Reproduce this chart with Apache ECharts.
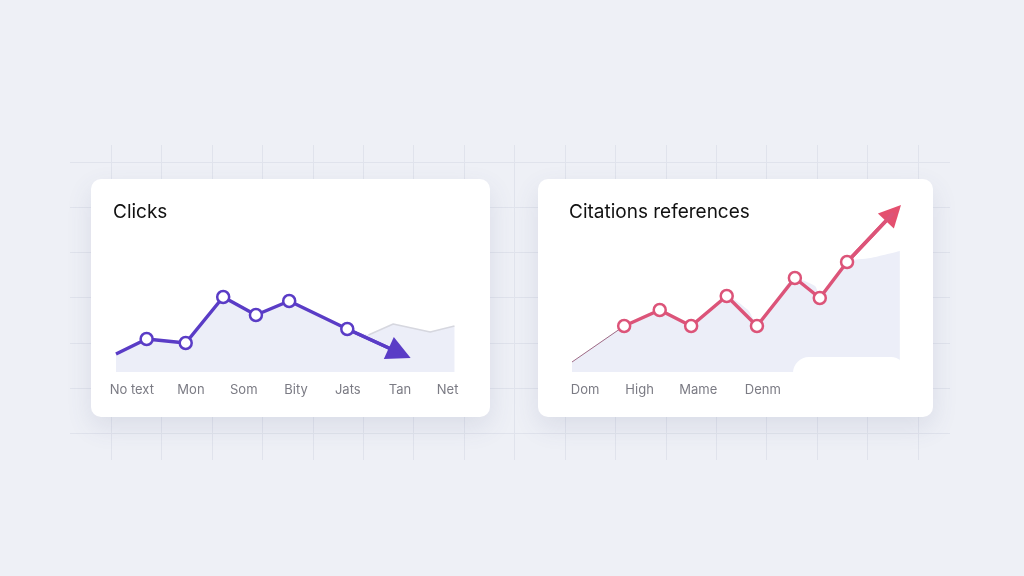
<!DOCTYPE html>
<html>
<head>
<meta charset="utf-8">
<title>Clicks / Citations</title>
<script src="https://cdn.jsdelivr.net/npm/echarts@6/dist/echarts.min.js"></script>
<style>
  html, body { margin: 0; padding: 0; background: #eef0f6; }
  #main { width: 1024px; height: 576px; }
</style>
</head>
<body>
<div id="main"></div>
<script>
// left card: Clicks
var clickLabels = ['No text', 'Mon', 'Som', 'Bity', 'Jats', 'Tan', 'Net'];
var clickLabelAt = [0, 1.12, 2.12, 3.11, 4.09, 5.08, 5.98];
var clickX = [-0.3, 0.28, 1.02, 1.73, 2.35, 2.98, 4.08, 5.28];
var clickY = [18, 33, 29, 75, 57, 71, 43, 14];
// faint grey trace behind the arrow
var clickGhostX = [4.48, 4.95, 5.65, 6.11];
var clickGhostY = [37, 48, 40, 46];

// right card: Citations references
var citeLabels = ['Dom', 'High', 'Mame', 'Denm'];
var citeLabelAt = [0, 0.92, 1.91, 3.0];
var citeX = [-0.22, 0.66, 1.26, 1.79, 2.39, 2.90, 3.54, 3.96, 4.42, 5.33];
var citeY = [10, 46, 62, 46, 76, 46, 94, 74, 110, 167];
// shaded band under the pink line
var citeAreaX = [-0.22, 0.66, 1.26, 1.79, 2.39, 2.75, 2.90, 3.54, 3.88, 3.96, 4.42, 4.82, 5.31];
var citeAreaY = [10, 46, 62, 46, 76, 62, 48, 94, 86, 76, 110, 114, 121];

function pairs(xs, ys) {
  var out = [];
  for (var i = 0; i < xs.length; i++) out.push([xs[i], ys[i]]);
  return out;
}
function labelFor(names, at) {
  return function (v) {
    var best = 0;
    for (var i = 1; i < at.length; i++) {
      if (Math.abs(at[i] - v) < Math.abs(at[best] - v)) best = i;
    }
    return names[best];
  };
}

var PURPLE = '#5a3cc6';
var PINK = '#dc5479';
var AREA = '#eceef8';
var FONT = 'Inter, "Noto Sans", sans-serif';
var labelFont = { color: '#7b7b84', fontSize: 13, fontFamily: FONT };
var HEAD_L = 24, HEAD_R = 22;

var chart = echarts.init(document.getElementById('main'));

// line + arrow pieces
var clickPts = pairs(clickX, clickY);
var clickLine = clickPts.map(function (p, i) {
  if (i == 0 || i == clickPts.length - 1) return { value: p, symbol: 'none' };
  return p;
});
var clickArea = clickPts.slice(0, 7).concat(pairs(clickGhostX, clickGhostY));

var citePts = pairs(citeX, citeY);
var citeLine = citePts.slice(1).map(function (p, i, arr) {
  if (i == arr.length - 1) return { value: p, symbol: 'none' };
  return p;
});

var bgLineColor = '#e0e3ec';
var vColors = [], hColors = [];
for (var i = 0; i <= 18; i++) vColors.push(i == 0 || i == 18 ? 'rgba(0,0,0,0)' : bgLineColor);
for (var j = 0; j <= 8; j++) hColors.push(j == 0 || j == 8 ? 'rgba(0,0,0,0)' : bgLineColor);

option = {
  backgroundColor: '#eef0f6',
  animation: false,
  title: [
    { text: 'Clicks', left: 113, top: 203, padding: 0,
      textStyle: { fontSize: 19, fontWeight: 'normal', color: '#111', fontFamily: FONT } },
    { text: 'Citations references', left: 569, top: 203, padding: 0,
      textStyle: { fontSize: 19, fontWeight: 'normal', color: '#111', fontFamily: FONT } }
  ],
  graphic: [
    { type: 'rect', z: 1, shape: { x: 91, y: 179, width: 399, height: 238, r: 10 },
      style: { fill: '#fff', shadowBlur: 26, shadowOffsetY: 10, shadowColor: 'rgba(70,80,130,0.12)' } },
    { type: 'rect', z: 1, shape: { x: 538, y: 179, width: 395, height: 238, r: 10 },
      style: { fill: '#fff', shadowBlur: 26, shadowOffsetY: 10, shadowColor: 'rgba(70,80,130,0.12)' } },
    // white patch over the lower right of the citations plot
    { type: 'rect', z: 3, shape: { x: 793, y: 357, width: 112, height: 56, r: [16, 14, 0, 0] },
      style: { fill: '#fff' } }
  ],
  grid: [
    { left: 60.6, top: 145, width: 907.8, height: 315 },
    { left: 70, top: 116.8, width: 880, height: 361.6 },
    { left: 116, top: 202, width: 339, height: 170 },
    { left: 572, top: 202, width: 329, height: 170 }
  ],
  xAxis: [
    { gridIndex: 0, type: 'value', min: 0, max: 18, interval: 1, z: 0,
      axisLine: { show: false }, axisTick: { show: false }, axisLabel: { show: false },
      splitLine: { show: true, lineStyle: { color: vColors, width: 1 } } },
    { gridIndex: 1, type: 'value', show: false },
    { gridIndex: 2, type: 'value', min: -0.3, max: 6.12, z: 5,
      axisLine: { show: false }, axisTick: { show: false }, splitLine: { show: false },
      axisLabel: Object.assign({ customValues: clickLabelAt, margin: 12,
        formatter: labelFor(clickLabels, clickLabelAt) }, labelFont) },
    { gridIndex: 3, type: 'value', min: -0.22, max: 5.33, z: 5,
      axisLine: { show: false }, axisTick: { show: false }, splitLine: { show: false },
      axisLabel: Object.assign({ customValues: citeLabelAt, margin: 12,
        formatter: labelFor(citeLabels, citeLabelAt) }, labelFont) }
  ],
  yAxis: [
    { gridIndex: 0, type: 'value', show: false },
    { gridIndex: 1, type: 'value', min: 0, max: 8, interval: 1, z: 0,
      axisLine: { show: false }, axisTick: { show: false }, axisLabel: { show: false },
      splitLine: { show: true, lineStyle: { color: hColors, width: 1 } } },
    { gridIndex: 2, type: 'value', min: 0, max: 170, show: false },
    { gridIndex: 3, type: 'value', min: 0, max: 170, show: false }
  ],
  series: [
    // Clicks
    { type: 'line', xAxisIndex: 2, yAxisIndex: 2, data: clickArea, symbol: 'none', z: 2,
      lineStyle: { width: 0 }, areaStyle: { color: AREA, opacity: 1 } },
    { type: 'line', xAxisIndex: 2, yAxisIndex: 2, data: pairs(clickGhostX, clickGhostY), symbol: 'none', z: 2,
      lineStyle: { color: '#d6d7df', width: 1.5 } },
    { id: 'clickArrow', type: 'lines', coordinateSystem: 'cartesian2d', xAxisIndex: 2, yAxisIndex: 2, z: 3,
      symbol: ['none', 'triangle'], symbolSize: HEAD_L,
      lineStyle: { color: PURPLE, width: 3.5, opacity: 1, curveness: 0 },
      data: [{ coords: [clickPts[6], clickPts[7]] }] },
    { id: 'clickLine', type: 'line', xAxisIndex: 2, yAxisIndex: 2, data: clickLine, z: 4,
      symbol: 'circle', symbolSize: 12,
      lineStyle: { color: PURPLE, width: 3.5 },
      itemStyle: { color: '#fff', borderColor: PURPLE, borderWidth: 2.5 } },

    // Citations references
    { type: 'line', xAxisIndex: 3, yAxisIndex: 3, data: pairs(citeAreaX, citeAreaY), symbol: 'none', z: 2,
      smooth: 0.2, lineStyle: { width: 0 }, areaStyle: { color: AREA, opacity: 1 } },
    { type: 'line', xAxisIndex: 3, yAxisIndex: 3, data: citePts.slice(0, 2), symbol: 'none', z: 4,
      lineStyle: { color: '#a06b86', width: 1 } },
    { id: 'citeArrow', type: 'lines', coordinateSystem: 'cartesian2d', xAxisIndex: 3, yAxisIndex: 3, z: 4,
      symbol: ['none', 'triangle'], symbolSize: HEAD_R,
      lineStyle: { color: '#e4506f', width: 3.5, opacity: 1, curveness: 0 },
      data: [{ coords: [citePts[8], citePts[9]] }] },
    { id: 'citeLine', type: 'line', xAxisIndex: 3, yAxisIndex: 3, data: citeLine, z: 5,
      symbol: 'circle', symbolSize: 12,
      lineStyle: { color: PINK, width: 3.5 },
      itemStyle: { color: '#fff', borderColor: PINK, borderWidth: 2.5 } }
  ]
};
chart.setOption(option);

// the triangle head is centred on the segment end, so move that end back
// by half the head so the point of the arrow lands on the last value
function headCentre(gridIndex, from, tip, size) {
  var a = chart.convertToPixel({ gridIndex: gridIndex }, from);
  var b = chart.convertToPixel({ gridIndex: gridIndex }, tip);
  var dx = b[0] - a[0], dy = b[1] - a[1];
  var len = Math.sqrt(dx * dx + dy * dy);
  var c = [b[0] - dx / len * size / 2, b[1] - dy / len * size / 2];
  return chart.convertFromPixel({ gridIndex: gridIndex }, c);
}
var clickHead = headCentre(2, clickPts[6], clickPts[7], HEAD_L);
var citeHead = headCentre(3, citePts[8], citePts[9], HEAD_R);
clickLine[clickLine.length - 1] = { value: clickHead, symbol: 'none' };
citeLine[citeLine.length - 1] = { value: citeHead, symbol: 'none' };

chart.setOption({
  series: [
    { id: 'clickArrow', data: [{ coords: [clickPts[6], clickHead] }] },
    { id: 'clickLine', data: clickLine },
    { id: 'citeArrow', data: [{ coords: [citePts[8], citeHead] }] },
    { id: 'citeLine', data: citeLine }
  ]
});
</script>
</body>
</html>
